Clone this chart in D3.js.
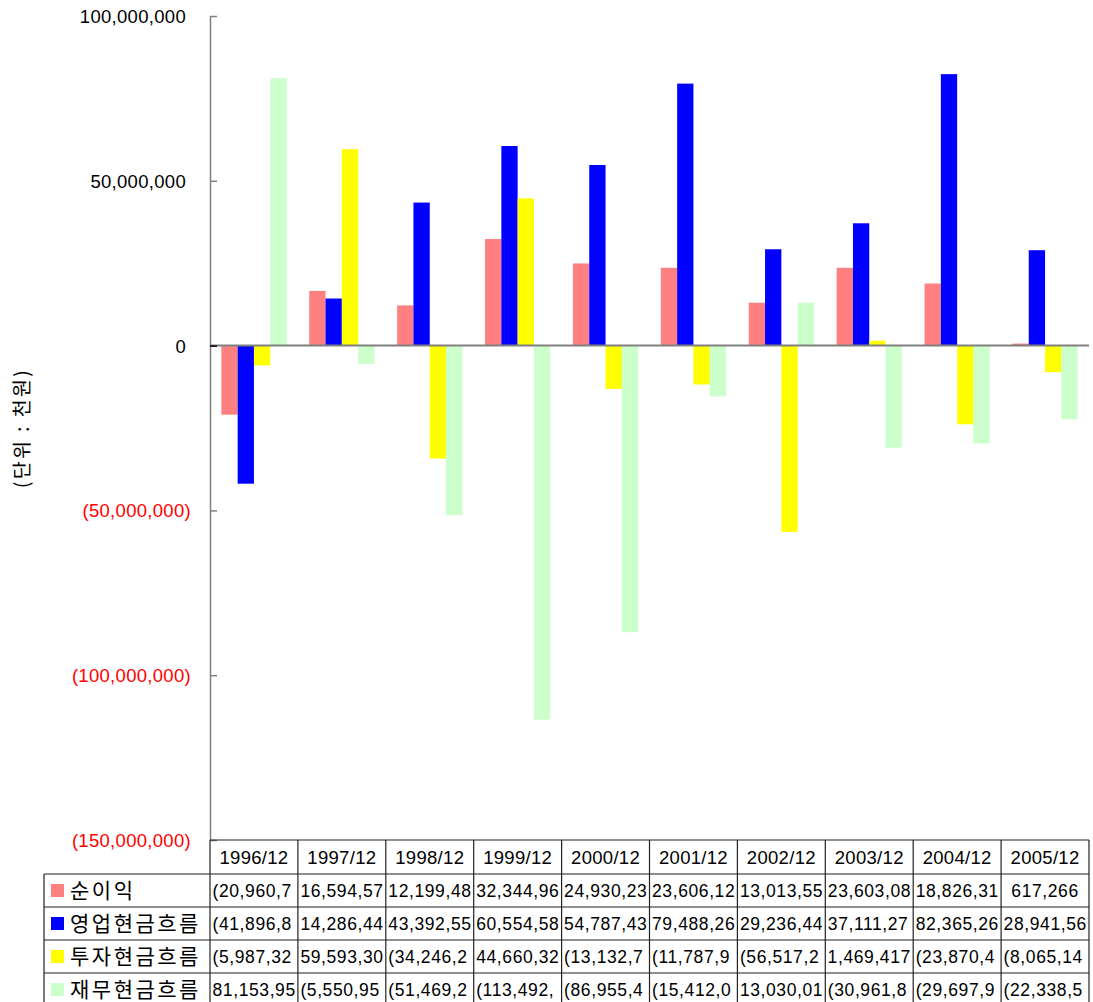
<!DOCTYPE html>
<html>
<head>
<meta charset="utf-8">
<script src="https://cdn.jsdelivr.net/npm/d3@7"></script>
<style>
  html, body { margin: 0; padding: 0; background: #fff; }
  svg { display: block; }
</style>
</head>
<body>
<svg id="chart" width="1093" height="1002"></svg>
<script>
// ---- data (thousand won) ----
const categories = ["1996/12","1997/12","1998/12","1999/12","2000/12","2001/12","2002/12","2003/12","2004/12","2005/12"];
const seriesNames = ["순이익","영업현금흐름","투자현금흐름","재무현금흐름"];
const netIncome = [-20960700, 16594570, 12199480, 32344960, 24930230, 23606120, 13013550, 23603080, 18826310, 617266];
const operatingCF = [-41896800, 14286440, 43392550, 60554580, 54787430, 79488260, 29236440, 37111270, 82365260, 28941560];
const investingCF = [-5987320, 59593300, -34246200, 44660320, -13132700, -11787900, -56517200, 1469417, -23870400, -8065140];
const financingCF = [81153950, -5550950, -51469200, -113492000, -86955400, -15412000, 13030010, -30961800, -29697900, -22338500];
const seriesColors = ["#ff8080", "#0000ff", "#ffff00", "#ccffcc"];
const yTicks = [100000000, 50000000, 0, -50000000, -100000000, -150000000];
const yDomain = [-150000000, 100000000];
const unitLabel = "(단위 : 천원)";

const seriesValues = [netIncome, operatingCF, investingCF, financingCF];

// ---- layout ----
const plotLeft = 210, plotRight = 1089, plotTop = 16, plotBottom = 840;
const headerH = 34, rowH = 33, legendLeft = 44;
const numFont = "'Liberation Sans', Arial, sans-serif";
const korFont = "'Noto Sans CJK KR', 'Noto Sans', sans-serif";

const svg = d3.select("#chart");

const y = d3.scaleLinear().domain(yDomain).range([plotBottom, plotTop]);
const x0 = d3.scaleBand().domain(categories).range([plotLeft, plotRight])
  .paddingInner(0.258).paddingOuter(0.129);
const x1 = d3.scaleBand().domain(d3.range(seriesNames.length)).range([0, x0.bandwidth()]);
const xCol = d3.scaleBand().domain(categories).range([plotLeft, plotRight]);

const fmtNum = v => v < 0 ? "(" + d3.format(",")(-v) + ")" : d3.format(",")(v);

// ---- bars ----
const bars = svg.append("g");
categories.forEach((c, i) => {
  seriesValues.forEach((vals, s) => {
    const v = vals[i];
    bars.append("rect")
      .attr("x", x0(c) + x1(s))
      .attr("width", x1.bandwidth())
      .attr("y", y(Math.max(0, v)))
      .attr("height", Math.abs(y(v) - y(0)))
      .attr("fill", seriesColors[s]);
  });
});

// ---- zero line ----
svg.append("line")
  .attr("x1", plotLeft).attr("x2", plotRight)
  .attr("y1", y(0)).attr("y2", y(0))
  .attr("stroke", "#808080").attr("stroke-width", 2);

// ---- y axis ----
const yAxis = d3.axisRight(y).tickValues(yTicks).tickSize(7).tickFormat("");
const gy = svg.append("g").attr("transform", `translate(${plotLeft},0)`).call(yAxis);
gy.select(".domain").attr("stroke", "#808080").attr("stroke-width", 1.5)
  .attr("d", `M0.5,${plotTop}V${plotBottom}`);
gy.selectAll(".tick line").attr("stroke", d => d === 0 ? "#000" : "#808080").attr("stroke-width", 1.5);

svg.append("g").selectAll("text").data(yTicks).join("text")
  .attr("x", d => d < 0 ? 191 : 186)
  .attr("y", d => y(d))
  .attr("dy", "0.38em")
  .attr("text-anchor", "end")
  .attr("font-family", numFont)
  .attr("font-size", 18.5)
  .attr("letter-spacing", 0.3)
  .attr("fill", d => d < 0 ? "#ff0000" : "#000")
  .text(fmtNum);

// ---- y title ----
svg.append("text")
  .attr("transform", "translate(29,428) rotate(-90)")
  .attr("text-anchor", "middle")
  .attr("font-family", korFont)
  .attr("font-size", 19.5)
  .attr("letter-spacing", 2.4)
  .attr("fill", "#000")
  .text(unitLabel);

// ---- data table ----
const table = svg.append("g");
const tTop = plotBottom;
const rowsTop = tTop + headerH;
const tBottom = rowsTop + rowH * seriesNames.length;

// header texts
table.selectAll("text.hdr").data(categories).join("text")
  .attr("class", "hdr")
  .attr("x", d => xCol(d) + xCol.bandwidth() / 2)
  .attr("y", tTop + headerH / 2)
  .attr("dy", "0.36em")
  .attr("text-anchor", "middle")
  .attr("font-family", numFont)
  .attr("font-size", 18.5)
  .attr("letter-spacing", 0.3)
  .attr("fill", "#000")
  .text(d => d);

// legend cells
seriesNames.forEach((name, s) => {
  const cy = rowsTop + rowH * s + rowH / 2;
  table.append("rect")
    .attr("x", 51).attr("y", cy - 6.5)
    .attr("width", 13).attr("height", 13)
    .attr("fill", seriesColors[s]);
  table.append("text")
    .attr("x", 70).attr("y", cy)
    .attr("dy", "0.36em")
    .attr("font-family", korFont)
    .attr("font-size", 21)
    .attr("letter-spacing", 2.5)
    .attr("fill", "#000")
    .text(name);
});

// value cells (text truncated to the cell width, as the spreadsheet does)
seriesValues.forEach((vals, s) => {
  const cy = rowsTop + rowH * s + rowH / 2;
  categories.forEach((c, i) => {
    const cw = xCol.bandwidth();
    const full = fmtNum(vals[i]);
    const t = table.append("text")
      .attr("y", cy)
      .attr("dy", "0.36em")
      .attr("font-family", numFont)
      .attr("font-size", 17.5)
      .attr("letter-spacing", 0.6)
      .attr("fill", "#000")
      .text(full);
    let str = full;
    while (t.node().getComputedTextLength() > cw - 2.5 && str.length > 1) {
      str = str.slice(0, -1);
      t.text(str);
    }
    if (str === full) {
      t.attr("x", xCol(c) + cw / 2).attr("text-anchor", "middle");
    } else {
      t.attr("x", xCol(c) + 2.5);
    }
  });
});

// table grid
const gl = table.append("g").attr("stroke", "#222").attr("stroke-width", 1.2);
gl.append("line").attr("x1", plotLeft).attr("x2", plotRight).attr("y1", tTop).attr("y2", tTop);
for (let r = 0; r <= seriesNames.length; r++) {
  const yy = rowsTop + rowH * r;
  gl.append("line").attr("x1", legendLeft).attr("x2", plotRight).attr("y1", yy).attr("y2", yy);
}
gl.append("line").attr("x1", legendLeft).attr("x2", legendLeft).attr("y1", rowsTop).attr("y2", tBottom);
categories.forEach(c => {
  gl.append("line").attr("x1", xCol(c)).attr("x2", xCol(c)).attr("y1", tTop).attr("y2", tBottom);
});
gl.append("line").attr("x1", plotRight).attr("x2", plotRight).attr("y1", tTop).attr("y2", tBottom);
</script>
</body>
</html>
